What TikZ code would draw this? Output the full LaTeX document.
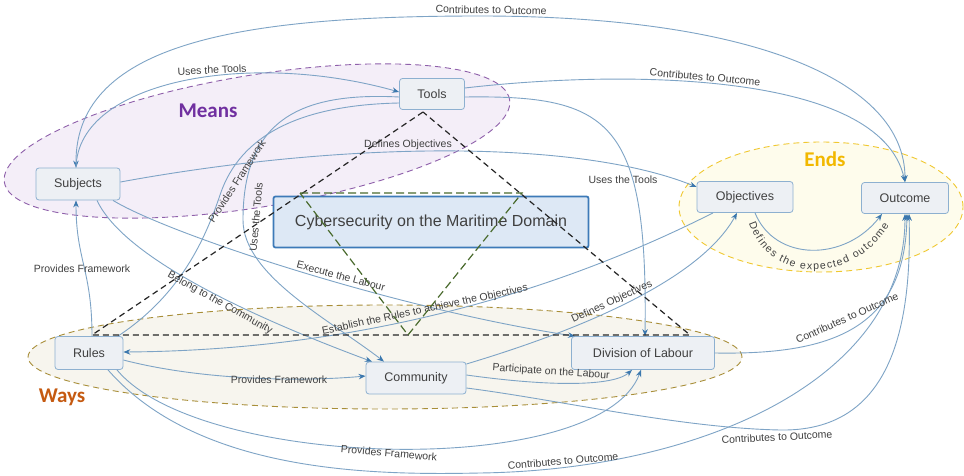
\documentclass[tikz,border=0pt]{standalone}
\usepackage{fontspec}
\setmainfont{Liberation Sans}
\newfontfamily\carl{Carlito}
\usetikzlibrary{arrows.meta,decorations.text}
\definecolor{edgec}{HTML}{7EA4C6}
\definecolor{arrc}{HTML}{3C78AE}
\definecolor{txtc}{HTML}{404040}
\definecolor{nodeborder}{HTML}{8DB0D0}
\definecolor{nodefill}{HTML}{EDF0F4}
\definecolor{meansfill}{HTML}{F4EEF8}
\definecolor{meansline}{HTML}{8E5FAA}
\definecolor{meanstxt}{HTML}{7030A0}
\definecolor{waysfill}{HTML}{F7F5EE}
\definecolor{waysline}{HTML}{A88E38}
\definecolor{waystxt}{HTML}{C55A11}
\definecolor{endsfill}{HTML}{FEFCEC}
\definecolor{endsline}{HTML}{F0C830}
\definecolor{endstxt}{HTML}{F2B800}
\definecolor{cyberfill}{HTML}{DDE8F5}
\definecolor{cyberline}{HTML}{3D7AB8}
\definecolor{trigreen}{HTML}{4A6B2E}
\tikzset{
  box/.style={draw=nodeborder, fill=nodefill, rounded corners=3pt, line width=0.8pt, inner sep=0pt, text=txtc, font=\fontsize{12.5}{14}\selectfont},
  conn/.style={draw=edgec, line width=0.9pt},
  arr/.style={conn, -{Stealth[length=7pt,width=5.5pt,color=arrc]}},
  darr/.style={conn, {Stealth[length=7pt,width=5.5pt,color=arrc]}-{Stealth[length=7pt,width=5.5pt,color=arrc]}},
  lbl/.style={text=txtc, font=\fontsize{10.5}{12}\selectfont, inner sep=0pt},
  grouplbl/.style={font=\carl\bfseries\fontsize{21}{24}\selectfont, inner sep=0pt},
  groupline/.style={dash pattern=on 6pt off 4pt, line width=0.9pt},
  tri/.style={dash pattern=on 6pt off 4pt, line width=1.2pt},
}
\begin{document}
\begin{tikzpicture}[x=1pt,y=-1pt]
\useasboundingbox (0,0) rectangle (964,476);
\fill[white] (0,0) rectangle (964,476);
% group ellipses
\draw[groupline, draw=meansline, fill=meansfill, rotate around={9.3:(257,141)}] (257,141) ellipse [x radius=256pt, y radius=66pt];
\draw[groupline, draw=waysline, fill=waysfill] (385,357) ellipse [x radius=357pt, y radius=52pt];
\draw[groupline, draw=endsline, fill=endsfill] (821,207) ellipse [x radius=142pt, y radius=65pt];
\node[grouplbl, text=meanstxt] (meanslbl) at (208,111) {Means};
\node[grouplbl, text=waystxt] (wayslbl) at (62,397) {Ways};
\node[grouplbl, text=endstxt] (endslbl) at (825,159) {Ends};
% nodes
\node[box, minimum width=84pt, minimum height=32pt] (subj) at (78,184) {Subjects};
\node[box, minimum width=65pt, minimum height=31pt] (tools) at (432,94) {Tools};
\node[box, minimum width=96pt, minimum height=31pt] (obj) at (745,197) {Objectives};
\node[box, minimum width=87pt, minimum height=31pt] (outc) at (905,198) {Outcome};
\node[box, minimum width=68pt, minimum height=33pt] (rules) at (89,353) {Rules};
\node[box, minimum width=100pt, minimum height=32pt] (comm) at (416,378) {Community};
\node[box, minimum width=143pt, minimum height=33pt] (dol) at (643,353) {Division of Labour};
\node[draw=cyberline, fill=cyberfill, line width=1.8pt, rounded corners=2pt, minimum width=315pt, minimum height=51pt, inner sep=0pt, font=\fontsize{16}{18}\selectfont, text=txtc] (cyber) at (431,222) {Cybersecurity on the Maritime Domain};
% connectors
\draw[darr] ([xshift=-2pt]subj.north) .. controls (75,40) and (250,16) .. (480,16) .. controls (750,16) and (905,80) .. (outc.north);
\draw[arr] ([xshift=-2pt]subj.north) .. controls (78,80) and (250,50) .. ([yshift=2pt]tools.west);
\draw[arr] ([yshift=6pt]tools.east) .. controls (620,70) and (880,70) .. (outc.north);
\draw[arr] ([yshift=-3pt]tools.east) .. controls (610,95) and (648,120) .. ([xshift=2pt]dol.north);
\draw[arr] ([yshift=2pt]subj.east) .. controls (350,140) and (580,140) .. ([yshift=10pt]obj.west);
\draw[conn] ([xshift=29pt]rules.north) .. controls (180,295) and (205,240) .. (220,195) .. controls (240,135) and (300,105) .. ([yshift=-9pt]tools.west);
\draw[arr] ([yshift=-3pt]tools.west) .. controls (300,92) and (243,120) .. (243,220) .. controls (243,275) and (330,320) .. ([xshift=-32pt]comm.north);
\draw[arr] ([xshift=19pt]subj.south) .. controls (125,260) and (260,320) .. ([xshift=-44pt]comm.north);
\draw[arr] ([xshift=35pt]subj.south) .. controls (170,235) and (400,310) .. ([xshift=-68pt]dol.north);
\draw[arr] ([xshift=3pt]rules.north) .. controls (92,270) and (76,260) .. ([xshift=-2pt]subj.south);
\draw[arr] ([xshift=-32pt]obj.south) .. controls (600,270) and (400,350) .. ([yshift=1pt]rules.east);
\draw[arr] ([yshift=14pt]comm.east) .. controls (580,330) and (700,280) .. ([xshift=-8pt]obj.south);
\draw[arr] ([yshift=-7pt]rules.east) .. controls (200,380) and (300,382) .. ([yshift=2pt]comm.west);
\draw[arr] ([yshift=3pt]comm.east) .. controls (560,388) and (615,385) .. ([xshift=-11pt]dol.south);
\draw[arr] ([xshift=28pt]rules.south) .. controls (200,470) and (600,480) .. ([xshift=-2pt]dol.south);
\draw[arr] ([xshift=19pt]rules.south) .. controls (200,475) and (380,475) .. (480,473) .. controls (700,470) and (905,380) .. (outc.south);
\draw[arr] ([yshift=-10pt]comm.east) .. controls (560,400) and (680,428) .. (780,430) .. controls (890,432) and (912,330) .. ([xshift=4pt]outc.south);
\draw[arr] (dol.east) .. controls (830,355) and (905,330) .. ([xshift=2pt]outc.south);
\draw[arr] ([xshift=10pt]obj.south) .. controls (775,262) and (845,262) .. ([xshift=-23pt]outc.south);
% labels
\node[lbl, rotate=-1] (l1) at (491,10) {Contributes to Outcome};
\node[lbl, rotate=3] (l2) at (212,70) {Uses the Tools};
\node[lbl, rotate=-5] (l3) at (705,77) {Contributes to Outcome};
\node[lbl] (l4) at (623,180) {Uses the Tools};
\node[lbl] (l5) at (408,145) {Defines Objectives};
\node[lbl, rotate=57] (l6) at (237,181) {Provides Framework};
\node[lbl, rotate=85] (l7) at (256,217) {Uses the Tools};
\node[lbl, rotate=-29] (l8) at (220,303) {Belong to the Community};
\node[lbl, rotate=-15] (l9) at (341,276) {Execute the Labour};
\node[lbl] (l10) at (82,269) {Provides Framework};
\node[lbl, rotate=12] (l11) at (425,310) {Establish the Rules to achieve the Objectives};
\node[lbl, rotate=25] (l12) at (612,302) {Defines Objectives};
\node[lbl] (l13) at (279,380) {Provides Framework};
\node[lbl, rotate=-4] (l14) at (551,372) {Participate on the Labour};
\node[lbl, rotate=-5] (l15) at (389,453) {Provides Framework};
\node[lbl, rotate=5] (l16) at (563,461) {Contributes to Outcome};
\node[lbl, rotate=3] (l17) at (777,437) {Contributes to Outcome};
\node[lbl, rotate=24] (l18) at (847,318) {Contributes to Outcome};
\path[decorate, decoration={text along path, text align={fit to path}, text={|\fontsize{10.5}{12}\selectfont\color{txtc}|Defines the expected outcome}}] (749,223) .. controls (770,285) and (852,285) .. (889,226);
% dashed triangles
\coordinate (ta) at (423,112);
\coordinate (tb) at (92,335);
\coordinate (tc) at (690,335);
\draw[tri, black!85] (ta) -- (tb) -- (tc) -- cycle;
\coordinate (ga) at (300,193);
\coordinate (gb) at (522,193);
\coordinate (gc) at (408,335);
\draw[tri, trigreen, dash pattern=on 8pt off 4pt] (ga) -- (gb) -- (gc) -- cycle;
\end{tikzpicture}
\end{document}
